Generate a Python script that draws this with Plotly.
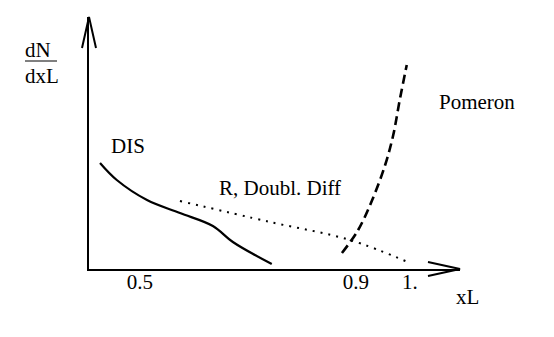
import plotly.graph_objects as go

# curves (y in arbitrary units)
dis_x = [0.426, 0.457, 0.513, 0.574, 0.635, 0.672, 0.744]
dis_y = [1.06, 0.89, 0.69, 0.56, 0.43, 0.27, 0.05]

rdd_x = [0.574, 0.741, 0.889, 1.0]
rdd_y = [0.68, 0.47, 0.29, 0.06]

pom_x = [0.874, 0.904, 0.930, 0.954, 0.969, 0.981, 0.994]
pom_y = [0.16, 0.39, 0.69, 1.04, 1.34, 1.69, 2.04]

tick_vals = [0.5, 0.9, 1.0]
tick_text = ["0.5", "0.9", "1."]

X0, X1 = 0.4056, 1.0926
Y0, Y1 = 0.0, 2.52
FONT = "Liberation Serif"

# page body has an 8px margin, so the figure sits at (8, 8) in the window
OFF = 8
PL, PR, PT, PB = 89, 460, 17, 269  # plot area in window pixels


def px_x(px):
    return (px - PL) / (PR - PL)


def px_y(py):
    return (PB - py) / (PB - PT)


fig = go.Figure()
fig.add_trace(go.Scatter(x=dis_x, y=dis_y, mode="lines", line_shape="spline",
                         line=dict(color="black", width=2.2)))
fig.add_trace(go.Scatter(x=rdd_x, y=rdd_y, mode="lines", line_shape="spline",
                         line=dict(color="black", width=2, dash="2px,6px")))
fig.add_trace(go.Scatter(x=pom_x, y=pom_y, mode="lines", line_shape="spline",
                         line=dict(color="black", width=2.6, dash="9px,5px")))

# open V arrowheads at the axis ends (paper refs so they are not clipped)
fig.add_shape(type="path", xref="paper", yref="paper",
              path=(f"M {px_x(428)},{px_y(262)} L {px_x(460)},{px_y(269)} "
                    f"L {px_x(428)},{px_y(276)}"),
              line=dict(color="black", width=2))
fig.add_shape(type="path", xref="paper", yref="paper",
              path=(f"M {px_x(82)},{px_y(48)} L {px_x(89)},{px_y(17)} "
                    f"L {px_x(96)},{px_y(48)}"),
              line=dict(color="black", width=2))


def note(text, px, py, size=21):
    fig.add_annotation(text=text, x=px_x(px), y=px_y(py), xref="paper", yref="paper",
                       showarrow=False, font=dict(family=FONT, size=size, color="black"),
                       xanchor="center", yanchor="middle")


note("dN", 38, 50)
note("dxL", 42, 76)
fig.add_shape(type="line", xref="paper", yref="paper",
              x0=px_x(25), x1=px_x(57), y0=px_y(61), y1=px_y(61),
              line=dict(color="black", width=1))
note("DIS", 128, 146)
note("R, Doubl. Diff", 280, 188)
note("Pomeron", 477, 102)
note("xL", 467, 297)

fig.update_layout(
    width=554 - OFF, height=337 - OFF,
    margin=dict(l=PL - OFF, r=554 - PR, t=PT - OFF, b=337 - PB),
    paper_bgcolor="white", plot_bgcolor="white",
    showlegend=False,
    font=dict(family=FONT, size=21, color="black"),
)
fig.update_xaxes(range=[X0, X1], showgrid=False, zeroline=False, showline=True,
                 linecolor="black", linewidth=2, tickvals=tick_vals, ticktext=tick_text,
                 ticks="", ticklabelstandoff=-7)
fig.update_yaxes(range=[Y0, Y1], showgrid=False, zeroline=False, showline=True,
                 linecolor="black", linewidth=2, showticklabels=False, ticks="")

fig.write_html("out.html")
